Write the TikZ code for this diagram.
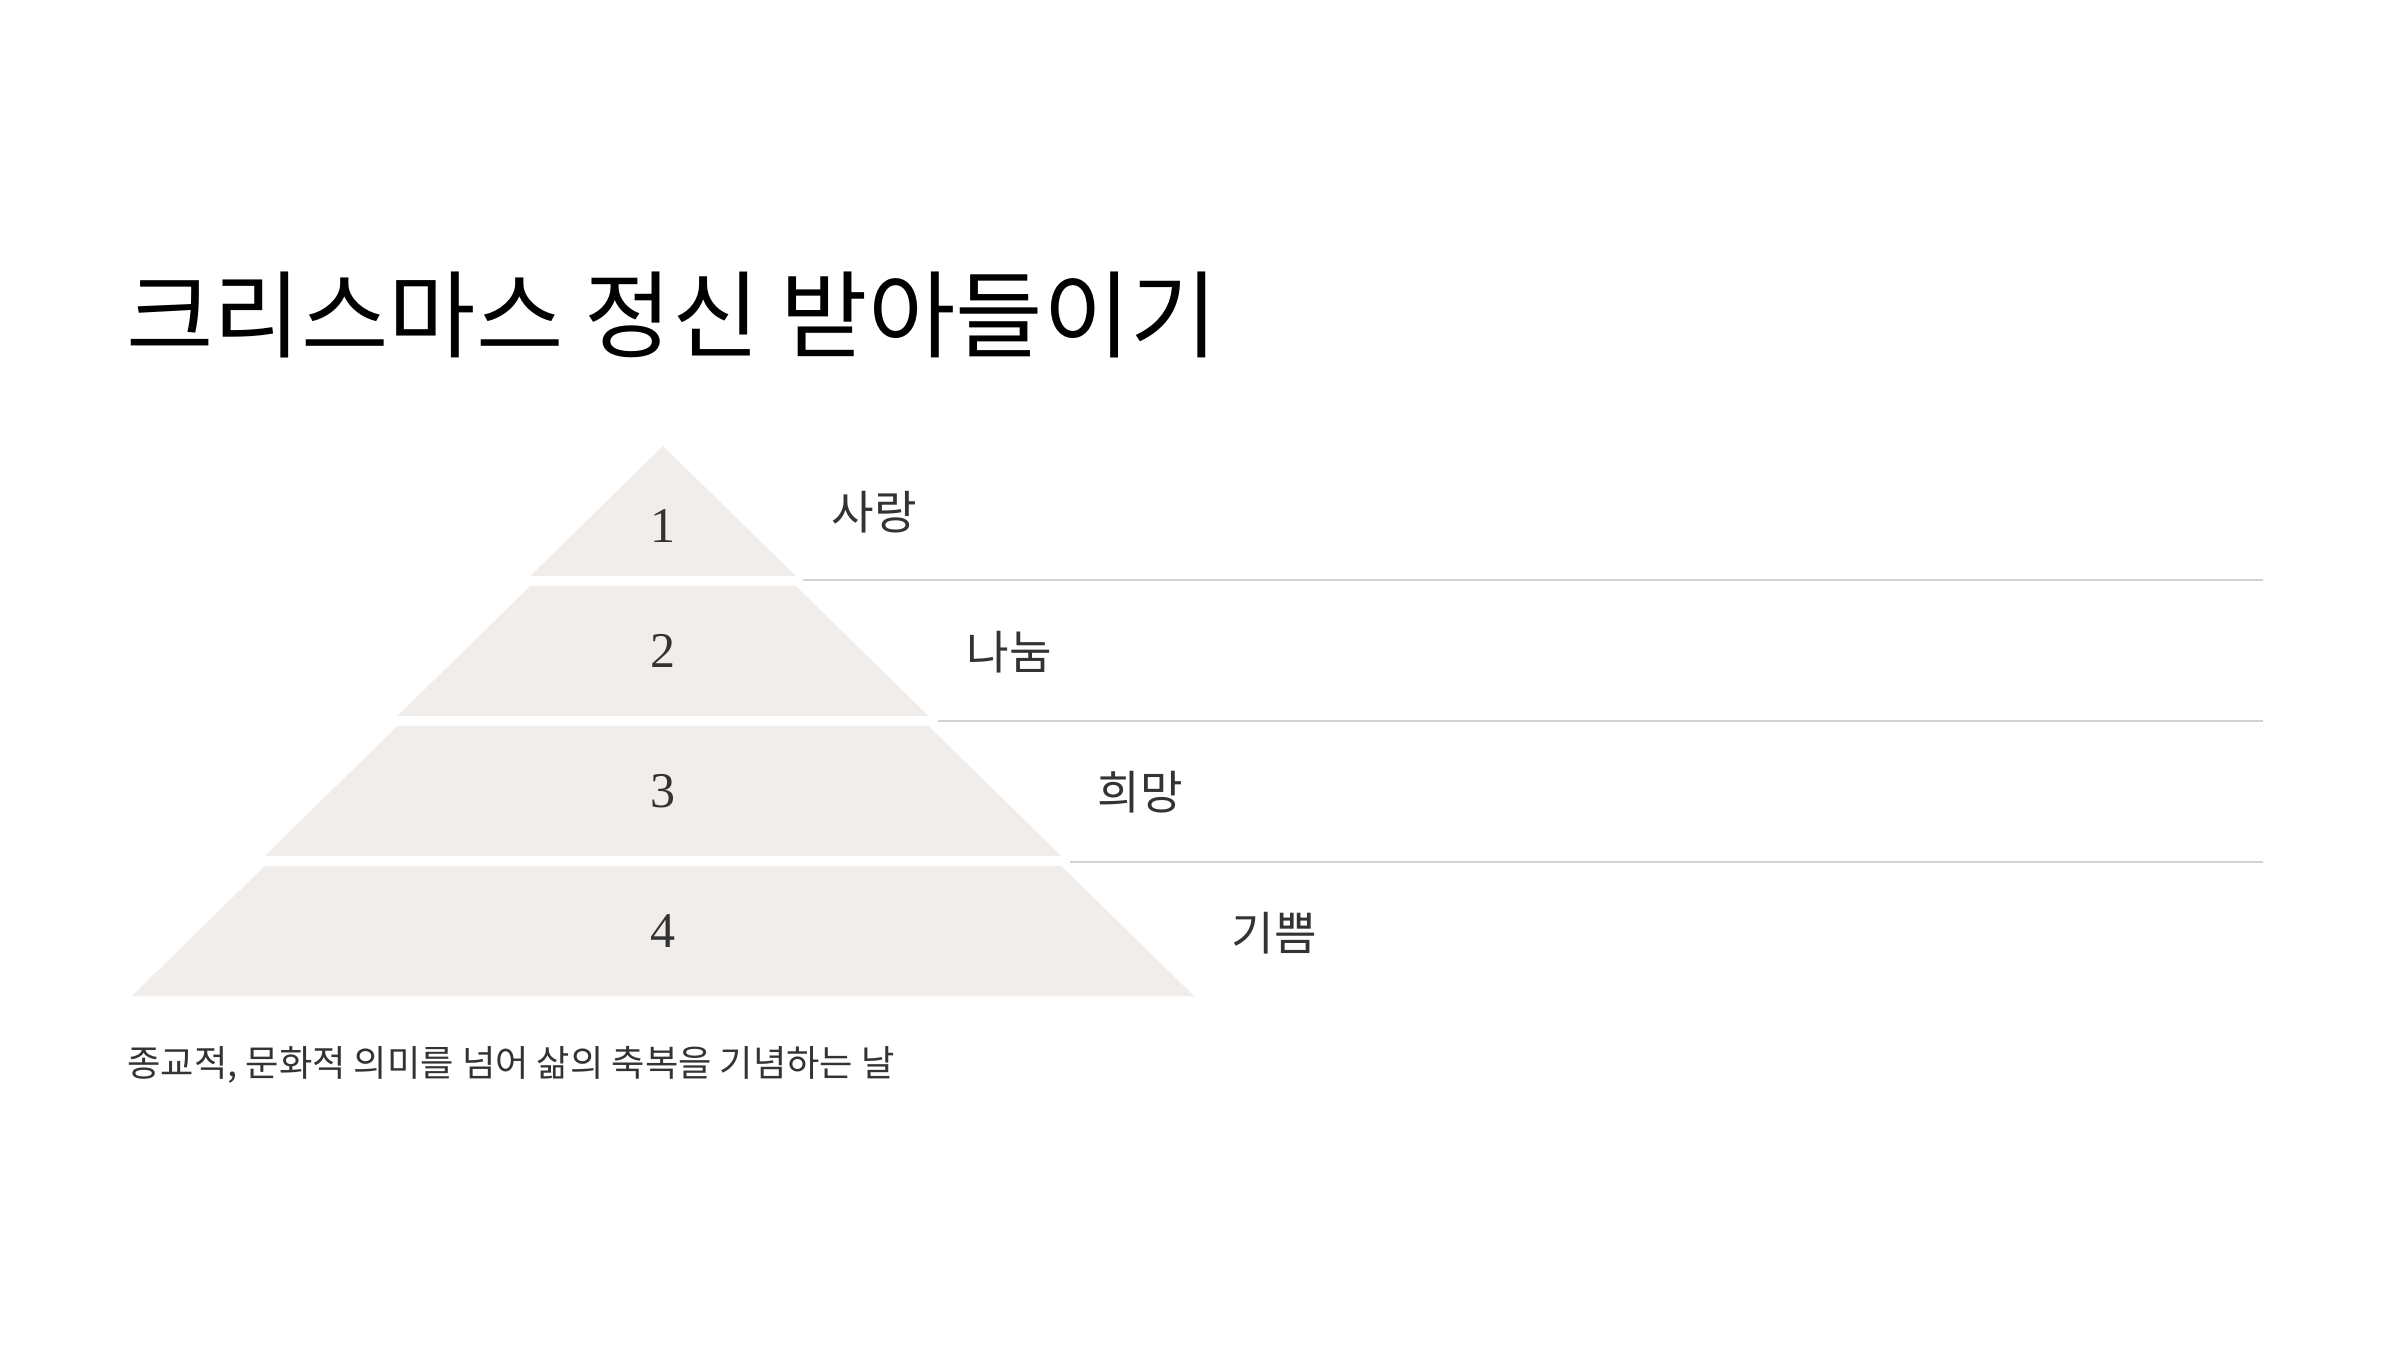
\documentclass[tikz,border=0pt]{standalone}
\usepackage{fontspec}
\setmainfont{Liberation Serif}
\newfontfamily\kr{Noto Sans CJK KR}
\definecolor{tierfill}{RGB}{240,237,235}
\definecolor{rulegrey}{RGB}{212,209,209}
\definecolor{txt}{RGB}{51,51,51}
\begin{document}
\begin{tikzpicture}[x=0.4pt,y=-0.4pt,
  tier/.style={fill=tierfill,draw=none},
  num/.style={font=\fontsize{20}{24}\selectfont, text=txt, inner sep=0},
  lbl/.style={font=\kr\fontsize{18.5}{22}\selectfont, text=txt, anchor=west, inner sep=0},
  sepline/.style={draw=rulegrey, line width=0.7pt}]
\useasboundingbox[fill=white] (0,0) rectangle (2400,1350);
% title
\node[anchor=west, inner sep=0, font=\kr\fontsize{38}{44}\selectfont, text=black] (title) at (126,314.5) {크리스마스 정신 받아들이기};
% tiers
\fill[tier] (663,446) -- (795.75,576) -- (530.25,576) -- cycle;
\fill[tier] (530.25,586) -- (795.75,586) -- (928.5,716) -- (397.5,716) -- cycle;
\fill[tier] (397.5,726) -- (928.5,726) -- (1061.25,856) -- (264.75,856) -- cycle;
\fill[tier] (264.75,866) -- (1061.25,866) -- (1194,996) -- (132,996) -- cycle;
% numbers
\node[num] (n1) at (663,526) {1};
\node[num] (n2) at (663,651) {2};
\node[num] (n3) at (663,791) {3};
\node[num] (n4) at (663,931) {4};
% labels
\node[lbl] (l1) at (831,512) {사랑};
\node[lbl] (l2) at (966,652) {나눔};
\node[lbl] (l3) at (1097,792) {희망};
\node[lbl] (l4) at (1231,933) {기쁨};
% separator lines
\coordinate (s1a) at (803,580);  \coordinate (s1b) at (2263,580);
\coordinate (s2a) at (938,721);  \coordinate (s2b) at (2263,721);
\coordinate (s3a) at (1070,862); \coordinate (s3b) at (2263,862);
\draw[sepline] (s1a) -- (s1b);
\draw[sepline] (s2a) -- (s2b);
\draw[sepline] (s3a) -- (s3b);
% subtitle
\node[anchor=west, inner sep=0, font=\kr\fontsize{14.5}{18}\selectfont, text=txt] (sub) at (127,1065) {종교적, 문화적 의미를 넘어 삶의 축복을 기념하는 날};
\end{tikzpicture}
\end{document}
